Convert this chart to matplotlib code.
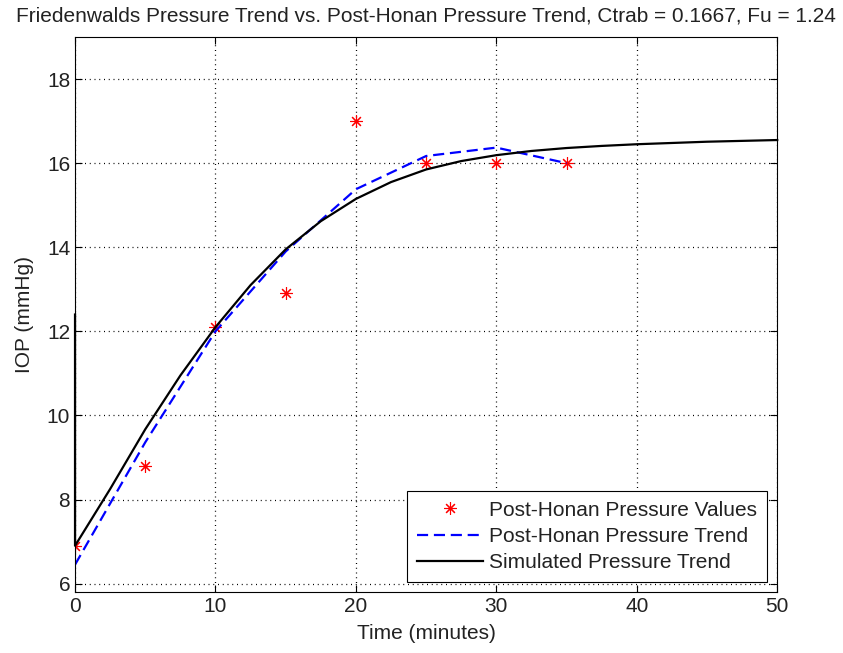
import matplotlib.pyplot as plt

plt.rcParams["font.family"] = ["Liberation Sans", "DejaVu Sans"]

# measured post-Honan values
t_meas = [0, 5, 10, 15, 20, 25, 30, 35]
p_meas = [6.9, 8.8, 12.1, 12.9, 17.0, 16.0, 16.0, 16.0]

# post-Honan trend (dashed)
t_trend = [0, 5, 10, 15, 20, 25, 30, 35]
p_trend = [6.45, 9.36, 12.0, 13.9, 15.38, 16.17, 16.37, 16.0]

# simulated Friedenwald trend
t_sim = [0, 0, 2.5, 5, 7.5, 10, 12.5, 15, 17.5, 20, 22.5, 25, 27.5, 30,
         32.5, 35, 37.5, 40, 42.5, 45, 47.5, 50]
p_sim = [12.4, 6.9, 8.25, 9.67, 10.95, 12.1, 13.1, 13.95, 14.62, 15.15, 15.55,
         15.85, 16.05, 16.19, 16.29, 16.36, 16.41, 16.45, 16.48, 16.51, 16.53, 16.55]

fig = plt.figure(figsize=(8.43, 6.53), dpi=100)
ax = fig.add_axes([0.089, 0.0934, 0.833, 0.8499])

ax.plot(t_meas, p_meas, linestyle="none", marker=(8, 2, 0), color="red",
        markersize=9, markeredgewidth=0.8, label="Post-Honan Pressure Values")
ax.plot(t_trend, p_trend, "--", color="#0000ff", linewidth=1.6, dashes=(5, 2.6),
        label="Post-Honan Pressure Trend")
ax.plot(t_sim, p_sim, "-", color="black", linewidth=1.6, clip_on=False,
        label="Simulated Pressure Trend")

ax.set_xlim(0, 50)
ax.set_ylim(5.8, 19)
ax.set_xticks(range(0, 51, 10))
ax.set_yticks(range(6, 19, 2))
ax.grid(True, linestyle=(0, (0.8, 3)), color="black", linewidth=0.9)
ax.tick_params(direction="in", top=True, right=True, labelsize=15, length=5,
               width=0.8, labelcolor="#222222")
for s in ax.spines.values():
    s.set_linewidth(0.8)

ax.set_xlabel("Time (minutes)", fontsize=15, labelpad=6, color="#222222")
ax.set_ylabel("IOP (mmHg)", fontsize=15, labelpad=9, color="#222222")
ax.set_title("Friedenwalds Pressure Trend vs. Post-Honan Pressure Trend, "
             "Ctrab = 0.1667, Fu = 1.24", fontsize=15, pad=11, color="#222222")

leg = ax.legend(loc="lower right", fontsize=15, fancybox=False,
                framealpha=1, edgecolor="black", borderaxespad=0.5,
                labelspacing=0.35, borderpad=0.45, handlelength=3.2,
                handletextpad=0.3, labelcolor="#222222")
leg.get_frame().set_linewidth(0.8)

fig.savefig("out.png")
